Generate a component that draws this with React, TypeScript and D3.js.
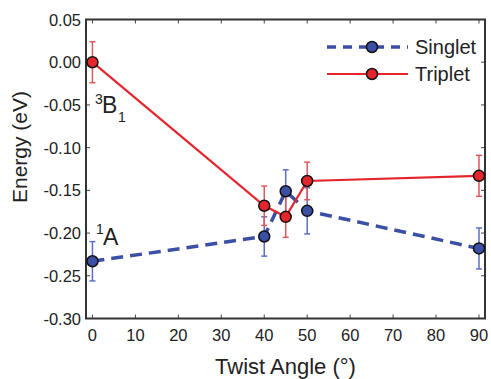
import React, { useEffect, useRef } from "react";
import * as d3 from "d3";

const angles = [0, 40, 45, 50, 90];
const singlet = [-0.233, -0.204, -0.151, -0.174, -0.218];
const singletErr = [0.023, 0.023, 0.025, 0.027, 0.024];
const triplet = [0.0, -0.168, -0.181, -0.139, -0.133];
const tripletErr = [0.024, 0.023, 0.024, 0.022, 0.024];
const xTicks = [0, 10, 20, 30, 40, 50, 60, 70, 80, 90];
const yTicks = [0.05, 0.0, -0.05, -0.1, -0.15, -0.2, -0.25, -0.3];

const RED = "#e4262c";
const BLUE = "#3b4fa5";
const FONT = "'Liberation Sans', Arial, Helvetica, sans-serif";

const App: React.FC = () => {
  const svgRef = useRef<SVGSVGElement | null>(null);

  useEffect(() => {
    if (!svgRef.current) return;
    const svg = d3.select(svgRef.current);
    svg.selectAll("*").remove();

    const left = 86, right = 485, top = 19.5, bottom = 318.5;
    const x = d3.scaleLinear().domain([-1.5, 91.4]).range([left, right]);
    const y = d3.scaleLinear().domain([-0.3, 0.05]).range([bottom, top]);

    const g = svg.append("g").style("font-family", FONT);

    // ticks on all four sides, pointing inward
    const tickLen = 4;
    xTicks.forEach((t) => {
      g.append("line").attr("x1", x(t)).attr("x2", x(t)).attr("y1", bottom).attr("y2", bottom - tickLen)
        .attr("stroke", "#444").attr("stroke-width", 1);
      g.append("line").attr("x1", x(t)).attr("x2", x(t)).attr("y1", top).attr("y2", top + tickLen)
        .attr("stroke", "#444").attr("stroke-width", 1);
      g.append("text").attr("x", x(t)).attr("y", 341).attr("text-anchor", "middle")
        .attr("font-size", 16.5).attr("fill", "#222").text(d3.format("d")(t));
    });
    yTicks.forEach((t) => {
      g.append("line").attr("x1", left).attr("x2", left + tickLen).attr("y1", y(t)).attr("y2", y(t))
        .attr("stroke", "#444").attr("stroke-width", 1);
      g.append("line").attr("x1", right).attr("x2", right - tickLen).attr("y1", y(t)).attr("y2", y(t))
        .attr("stroke", "#444").attr("stroke-width", 1);
      g.append("text").attr("x", 81).attr("y", y(t) + 6).attr("text-anchor", "end")
        .attr("font-size", 16.5).attr("fill", "#222").text(d3.format(".2f")(t).replace("−", "-"));
    });

    g.append("rect").attr("x", left).attr("y", top).attr("width", right - left).attr("height", bottom - top)
      .attr("fill", "none").attr("stroke", "#333").attr("stroke-width", 2);

    const line = d3.line<number>().x((_, i) => x(angles[i])).y((d) => y(d));

    const drawSeries = (vals: number[], errs: number[], color: string, errColor: string, dashed: boolean) => {
      g.append("path").datum(vals).attr("d", line).attr("fill", "none")
        .attr("stroke", color).attr("stroke-width", dashed ? 3.5 : 2.2)
        .attr("stroke-dasharray", dashed ? "12,7" : null);
      vals.forEach((v, i) => {
        const cx = x(angles[i]);
        g.append("line").attr("x1", cx).attr("x2", cx).attr("y1", y(v + errs[i])).attr("y2", y(v - errs[i]))
          .attr("stroke", errColor).attr("stroke-width", 1.5);
        [v + errs[i], v - errs[i]].forEach((e) => {
          g.append("line").attr("x1", cx - 3).attr("x2", cx + 3).attr("y1", y(e)).attr("y2", y(e))
            .attr("stroke", errColor).attr("stroke-width", 1.5);
        });
      });
    };
    const drawMarkers = (vals: number[], color: string) => {
      g.selectAll(null).data(vals).enter().append("circle")
        .attr("cx", (_, i) => x(angles[i])).attr("cy", (d) => y(d)).attr("r", 5.5)
        .attr("fill", color).attr("stroke", "#111").attr("stroke-width", 1.5);
    };

    drawSeries(singlet, singletErr, BLUE, "#5b6fc4", true);
    drawSeries(triplet, tripletErr, RED, "#e0585c", false);
    drawMarkers(singlet, BLUE);
    drawMarkers(triplet, RED);

    // legend
    const legend = [
      { label: "Singlet", color: BLUE, dashed: true, yy: 47 },
      { label: "Triplet", color: RED, dashed: false, yy: 74 },
    ];
    legend.forEach((l) => {
      g.append("line").attr("x1", 327).attr("x2", 408).attr("y1", l.yy).attr("y2", l.yy)
        .attr("stroke", l.color).attr("stroke-width", l.dashed ? 3.5 : 2.2)
        .attr("stroke-dasharray", l.dashed ? "9,7" : null);
      g.append("circle").attr("cx", 372).attr("cy", l.yy).attr("r", 5.5)
        .attr("fill", l.color).attr("stroke", "#111").attr("stroke-width", 1.5);
      g.append("text").attr("x", 415).attr("y", l.yy + 7).attr("font-size", 20).attr("fill", "#222").text(l.label);
    });

    // state labels
    g.append("text").attr("x", 95).attr("y", 104).attr("font-size", 14).attr("fill", "#222").text("3");
    g.append("text").attr("x", 102).attr("y", 113).attr("font-size", 23).attr("fill", "#222").text("B");
    g.append("text").attr("x", 118).attr("y", 122).attr("font-size", 14).attr("fill", "#222").text("1");
    g.append("text").attr("x", 96).attr("y", 234).attr("font-size", 14).attr("fill", "#222").text("1");
    g.append("text").attr("x", 103).attr("y", 245).attr("font-size", 23).attr("fill", "#222").text("A");

    // axis titles
    g.append("text").attr("x", (left + right) / 2).attr("y", 373.5).attr("text-anchor", "middle")
      .attr("font-size", 22).attr("fill", "#222").text("Twist Angle (°)");
    g.append("text").attr("transform", "translate(27,147) rotate(-90)").attr("text-anchor", "middle")
      .attr("font-size", 21).attr("fill", "#222").text("Energy (eV)");
  }, []);

  return (
    <svg ref={svgRef} width={491} height={379}
      style={{ position: "absolute", left: 0, top: 0, background: "#fff" }} />
  );
};

export default App;
